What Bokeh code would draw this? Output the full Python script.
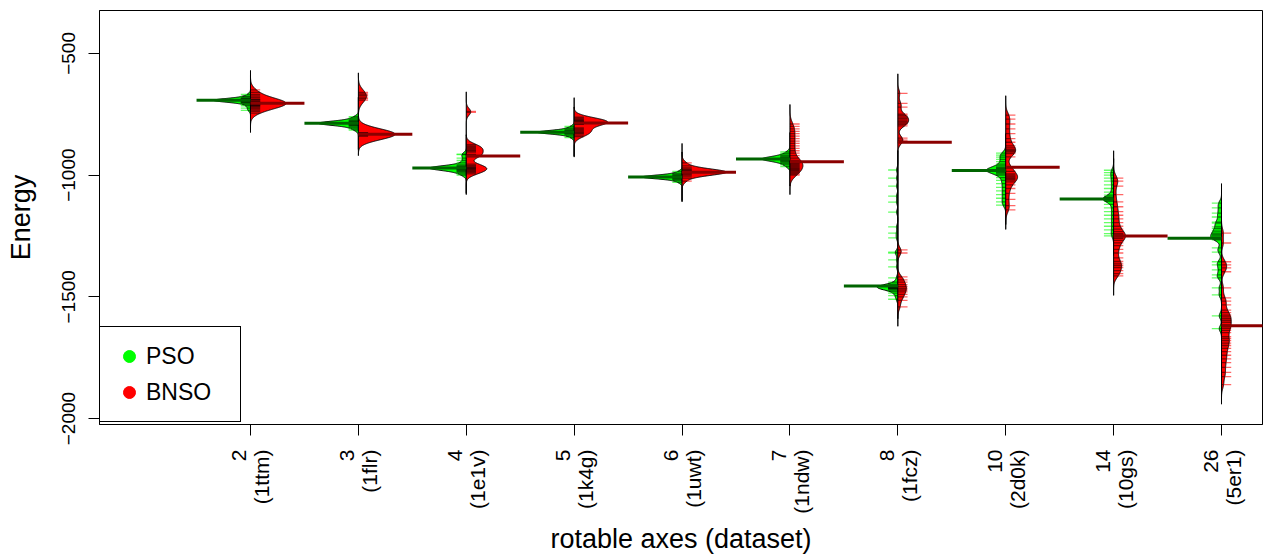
import numpy as np
from bokeh.plotting import figure
from bokeh.models import Legend, LegendItem, FixedTicker, ColumnDataSource
from bokeh.embed import file_html
from bokeh.resources import INLINE

# ---------------- data ----------------
categories = ["2\n(1ttm)", "3\n(1flr)", "4\n(1e1v)", "5\n(1k4g)", "6\n(1uwt)",
              "7\n(1ndw)", "8\n(1fcz)", "10\n(2d0k)", "14\n(10gs)", "26\n(5er1)"]
y_ticks = [-500, -1000, -1500, -2000]
y_tick_labels = ["\u2212500", "\u22121000", "\u22121500", "\u22122000"]

pso_1ttm = [-668, -676, -680, -684, -686, -688, -689, -690, -691, -692, -693, -693, -693, -693, -693,
            -693, -693, -693, -693, -693, -694, -695, -696, -698, -700, -701, -705, -710, -715, -725, -734]
bnso_1ttm = [-650, -660, -668, -675, -682, -688, -690, -692, -696, -699, -700, -701, -703, -704, -705,
             -705, -705, -706, -707, -709, -711, -712, -714, -717, -720, -724, -728, -733, -738, -745]

pso_1flr = [-760, -765, -770, -775, -778, -780, -783, -785, -787, -787, -787, -787, -787, -787, -787,
            -787, -787, -787, -787, -787, -787, -787, -790, -792, -795, -796, -800, -805, -810, -815]
bnso_1flr = [-660, -666, -672, -680, -686, -692, -826, -828, -829, -830, -830, -831, -831, -832, -832,
             -832, -832, -832, -832, -832, -832, -832, -832, -833, -833, -834, -835, -836, -838, -840]

pso_1e1v = [-914, -916, -930, -940, -950, -958, -962, -965, -968, -969, -970, -971, -971, -971, -971,
            -971, -971, -971, -971, -971, -972, -973, -974, -975, -978, -982, -985, -990, -995, -1000]
bnso_1e1v = [-738, -742, -875, -880, -884, -888, -892, -896, -900, -905, -915, -918, -920, -922, -924,
             -955, -960, -964, -968, -970, -972, -975, -978, -982, -986, -990, -995]

pso_1k4g = [-800, -806, -810, -814, -817, -820, -822, -823, -824, -824, -824, -824, -824, -824, -824,
            -824, -824, -824, -824, -824, -825, -826, -828, -831, -835, -840, -846]
bnso_1k4g = [-762, -766, -770, -773, -776, -778, -780, -781, -782, -783, -784, -785, -786, -788, -790,
             -792, -806, -810, -814, -818, -822, -826, -830, -836, -842]

pso_1uwt = [-985, -992, -996, -999, -1002, -1004, -1006, -1007, -1008, -1008, -1008, -1008, -1008,
            -1008, -1008, -1008, -1008, -1008, -1008, -1008, -1010, -1012, -1015, -1019, -1024, -1030]
bnso_1uwt = [-950, -962, -970, -976, -980, -983, -985, -986, -987, -988, -988, -988, -988, -988, -988,
             -988, -988, -989, -990, -992, -995, -999, -1004, -1012, -1025]

pso_1ndw = [-905, -912, -918, -922, -926, -929, -931, -933, -934, -934, -934, -934, -934, -934, -934,
            -934, -935, -937, -940, -944, -948, -953, -958, -965]
bnso_1ndw = [-790, -800, -810, -820, -830, -840, -850, -860, -870, -880, -890, -900, -910, -920, -930,
             -940, -945, -947, -947, -949, -952, -956, -960, -964, -968, -972, -976, -980, -984, -988,
             -992, -996, -1000]

pso_1fcz = [-979, -1012, -1045, -1086, -1111, -1152, -1213, -1238, -1258, -1316, -1320, -1348, -1377,
            -1422, -1440, -1448, -1452, -1455, -1457, -1458, -1459, -1459, -1460, -1460, -1461, -1462,
            -1462, -1463, -1464, -1465, -1468, -1472, -1478, -1485, -1495, -1510]
bnso_1fcz = [-664, -705, -721, -750, -756, -762, -768, -774, -780, -786, -792, -798, -848, -856, -865,
             -1307, -1320, -1418, -1430, -1440, -1450, -1458, -1465, -1472, -1480, -1490, -1500,
             -1515, -1541]

pso_2d0k = [-910, -918, -926, -935, -945, -955, -962, -968, -972, -976, -978, -980, -980, -980, -981,
            -983, -986, -990, -995, -1000, -1010, -1022, -1035, -1050, -1065, -1080, -1095, -1110, -1123]
bnso_2d0k = [-754, -770, -790, -810, -830, -850, -865, -880, -888, -895, -900, -905, -912, -925, -965,
             -970, -985, -995, -1000, -1005, -1010, -1015, -1020, -1028, -1040, -1055, -1075, -1100,
             -1125, -1143]

pso_10gs = [-980, -990, -1000, -1012, -1025, -1040, -1055, -1070, -1082, -1090, -1094, -1096, -1098,
            -1098, -1098, -1099, -1100, -1103, -1108, -1120, -1135, -1150, -1165, -1180, -1195, -1210,
            -1225, -1240, -1250]
bnso_10gs = [-1012, -1025, -1045, -1080, -1110, -1130, -1150, -1165, -1180, -1195, -1210, -1222, -1232,
             -1240, -1246, -1250, -1254, -1260, -1268, -1278, -1290, -1305, -1320, -1340, -1355, -1365,
             -1372, -1380, -1392, -1405, -1414]

pso_5er1 = [-1115, -1135, -1156, -1172, -1193, -1197, -1213, -1220, -1230, -1238, -1244, -1250, -1256,
            -1262, -1266, -1299, -1316, -1356, -1369, -1389, -1410, -1422, -1463, -1492, -1578, -1631]
bnso_5er1 = [-1238, -1279, -1356, -1369, -1381, -1397, -1463, -1504, -1518, -1533, -1555, -1565, -1575,
             -1582, -1590, -1598, -1605, -1615, -1622, -1630, -1638, -1647, -1664, -1672, -1680, -1690,
             -1700, -1712, -1725, -1740, -1755, -1770, -1790, -1810, -1828, -1861]

pso_series = [pso_1ttm, pso_1flr, pso_1e1v, pso_1k4g, pso_1uwt, pso_1ndw, pso_1fcz, pso_2d0k, pso_10gs, pso_5er1]
bnso_series = [bnso_1ttm, bnso_1flr, bnso_1e1v, bnso_1k4g, bnso_1uwt, bnso_1ndw, bnso_1fcz, bnso_2d0k, bnso_10gs, bnso_5er1]

# ---------------- bean styling (shape parameters) ----------------
bw_pso = [7, 8, 9, 7, 7, 9, 10, 12, 12, 12]
bw_bnso = [18, 22, 14, 14, 12, 20, 15, 18, 18, 18]
half_width_pso = [0.34, 0.37, 0.34, 0.34, 0.37, 0.26, 0.19, 0.18, 0.10, 0.10]
half_width_bnso = [0.33, 0.34, 0.19, 0.31, 0.41, 0.12, 0.10, 0.11, 0.11, 0.09]
TAIL = 80.0
LL = 0.09
MED_LEN = 0.5

PSO_FILL, BNSO_FILL = "#00FF00", "#FF0000"
PSO_MED, BNSO_MED = "#006400", "#8B0000"
FONT = "Liberation Sans"


def density(vals, bw):
    v = np.asarray(vals, dtype=float)
    g = np.linspace(v.min() - TAIL, v.max() + TAIL, 500)
    d = np.exp(-0.5 * ((g[:, None] - v[None, :]) / bw) ** 2).sum(axis=1)
    return g, d / d.max()


p = figure(width=1265, height=556, x_range=(-0.3995, 10.38), y_range=(-2024.5, -323.8),
           output_backend="svg", toolbar_location=None,
           min_border_left=99, min_border_right=3, min_border_top=10, min_border_bottom=131)
p.xgrid.visible = False
p.ygrid.visible = False
p.outline_line_color = "black"
p.outline_line_width = 1
p.outline_line_alpha = 1

poly_xs, poly_ys, poly_fill = [], [], []
in_x0, in_x1, in_y = [], [], []
outg_x0, outg_x1, outg_y = [], [], []
outr_x0, outr_x1, outr_y = [], [], []
med = {"g": ([], [], []), "r": ([], [], [])}

for i in range(len(categories)):
    c = i + 1
    for side, vals, bw, hw, fill in (("g", pso_series[i], bw_pso[i], half_width_pso[i], PSO_FILL),
                                     ("r", bnso_series[i], bw_bnso[i], half_width_bnso[i], BNSO_FILL)):
        sgn = -1.0 if side == "g" else 1.0
        g, d = density(vals, bw)
        w = d * hw
        poly_xs.append(np.concatenate([[c], c + sgn * w, [c]]))
        poly_ys.append(np.concatenate([[g[0]], g, [g[-1]]]))
        poly_fill.append(fill)
        for v in vals:
            wv = float(np.interp(v, g, w))
            inner = min(LL, wv)
            in_x0.append(c)
            in_x1.append(c + sgn * inner)
            in_y.append(v)
            if wv < LL:
                tgt = (outg_x0, outg_x1, outg_y) if side == "g" else (outr_x0, outr_x1, outr_y)
                tgt[0].append(c + sgn * wv)
                tgt[1].append(c + sgn * LL)
                tgt[2].append(v)
        m = float(np.median(vals))
        med[side][0].append(c)
        med[side][1].append(c + sgn * MED_LEN)
        med[side][2].append(m)

p.patches(xs=poly_xs, ys=poly_ys, fill_color=poly_fill, line_color="black", line_width=1)
p.segment(x0=outg_x0, x1=outg_x1, y0=outg_y, y1=outg_y, line_color=PSO_FILL, line_alpha=0.6, line_width=1.3)
p.segment(x0=outr_x0, x1=outr_x1, y0=outr_y, y1=outr_y, line_color=BNSO_FILL, line_alpha=0.6, line_width=1.3)
p.segment(x0=in_x0, x1=in_x1, y0=in_y, y1=in_y, line_color="black", line_alpha=0.5, line_width=1.3)
p.segment(x0=med["g"][0], x1=med["g"][1], y0=med["g"][2], y1=med["g"][2], line_color=PSO_MED, line_width=3)
p.segment(x0=med["r"][0], x1=med["r"][1], y0=med["r"][2], y1=med["r"][2], line_color=BNSO_MED, line_width=3)

# legend (renderers hold no visible point; they only provide the legend swatches)
key_g = ColumnDataSource(data=dict(x=[np.nan], y=[np.nan]))
key_r = ColumnDataSource(data=dict(x=[np.nan], y=[np.nan]))
rg = p.scatter(x="x", y="y", source=key_g, marker="circle", size=13, fill_color=PSO_FILL, line_color=PSO_FILL)
rr = p.scatter(x="x", y="y", source=key_r, marker="circle", size=13, fill_color=BNSO_FILL, line_color=BNSO_FILL)
legend = Legend(items=[LegendItem(label="PSO", renderers=[rg]), LegendItem(label="BNSO", renderers=[rr])],
                location=(0, 2), margin=0, padding=14, spacing=6, glyph_width=30, glyph_height=30,
                label_height=30, label_width=80, label_standoff=2,
                label_text_font=FONT, label_text_font_size="23px", label_text_color="black",
                border_line_color="black", border_line_width=1, border_line_alpha=1,
                background_fill_color="white", background_fill_alpha=1)
p.add_layout(legend)

# axes
xa = p.xaxis[0]
xa.ticker = FixedTicker(ticks=list(range(1, len(categories) + 1)))
xa.major_label_overrides = {i + 1: lab for i, lab in enumerate(categories)}
xa.major_label_orientation = np.pi / 2
xa.major_label_text_font = FONT
xa.major_label_text_font_size = "21px"
xa.major_label_text_line_height = 1.0
xa.major_label_standoff = 14
xa.axis_label = "rotable axes (dataset)"
xa.axis_label_text_font = FONT
xa.axis_label_text_font_size = "27px"
xa.axis_label_text_font_style = "normal"
xa.axis_label_standoff = 7

ya = p.yaxis[0]
ya.ticker = FixedTicker(ticks=y_ticks)
ya.major_label_overrides = {t: l for t, l in zip(y_ticks, y_tick_labels)}
ya.major_label_orientation = "vertical"
ya.major_label_text_font = FONT
ya.major_label_text_font_size = "19px"
ya.major_label_standoff = 13
ya.axis_label = "Energy"
ya.axis_label_text_font = FONT
ya.axis_label_text_font_size = "27px"
ya.axis_label_text_font_style = "normal"
ya.axis_label_standoff = 24

for ax in (xa, ya):
    ax.minor_tick_line_color = None
    ax.major_tick_in = 0
    ax.major_tick_out = 11
    ax.major_tick_line_color = "black"
    ax.axis_line_color = "black"
    ax.major_label_text_color = "black"
    ax.axis_label_text_color = "black"

open("out.html", "w").write(file_html(p, INLINE))
